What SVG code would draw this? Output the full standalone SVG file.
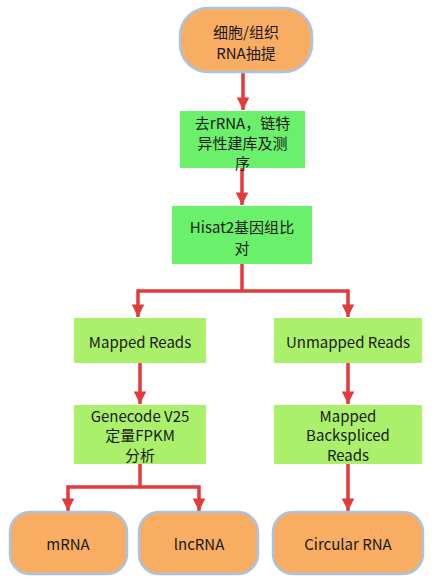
<svg xmlns="http://www.w3.org/2000/svg" width="437" height="585" viewBox="0 0 437 585">
<style>
text{font-family:"Noto Sans CJK SC","Noto Sans",sans-serif;font-size:15px;fill:#1a1a1a;text-anchor:middle;dominant-baseline:central}
.term{fill:#F8AD62;stroke:#A9C3E2;stroke-width:2.5}
.g1{fill:#6AF06A}
.g2{fill:#AAF06A}
.c{fill:none;stroke:#E23B3B;stroke-width:3.5;stroke-linejoin:miter}
</style>
<defs>
<marker id="ah" viewBox="0 0 10 10" refX="10" refY="5" markerWidth="3.6" markerHeight="3.6" orient="auto" markerUnits="strokeWidth">
<path d="M0,0 L10,5 L0,10 z" fill="#E23B3B"/>
</marker>
</defs>
<rect width="437" height="585" fill="#ffffff"/>
<g id="connectors">
<path class="c" d="M243,72 V110" marker-end="url(#ah)"/>
<path class="c" d="M242,168 V205" marker-end="url(#ah)"/>
<path class="c" d="M242,264 V291 M138,291 H348"/>
<path class="c" d="M138,289.3 V317" marker-end="url(#ah)"/>
<path class="c" d="M348,289.3 V317" marker-end="url(#ah)"/>
<path class="c" d="M140,363 V404" marker-end="url(#ah)"/>
<path class="c" d="M348,363 V404" marker-end="url(#ah)"/>
<path class="c" d="M140,464 V487 M68,487 H199"/>
<path class="c" d="M68,485.3 V511" marker-end="url(#ah)"/>
<path class="c" d="M199,485.3 V511" marker-end="url(#ah)"/>
<path class="c" d="M348,464 V511" marker-end="url(#ah)"/>
</g>
<g id="n1">
<rect class="term" x="180" y="8" width="132" height="64" rx="28" ry="28"/>
<text x="246" y="31">细胞/组织</text>
<text x="246" y="52">RNA抽提</text>
</g>
<g id="n2">
<rect class="g1" x="180" y="111" width="125" height="57"/>
<text x="242.5" y="122">去rRNA，链特</text>
<text x="242.5" y="142">异性建库及测</text>
<text x="242.5" y="162">序</text>
</g>
<g id="n3">
<rect class="g1" x="172" y="206" width="140" height="58"/>
<text x="242" y="226">Hisat2基因组比</text>
<text x="242" y="247">对</text>
</g>
<g id="n4">
<rect class="g2" x="74" y="318" width="132" height="45"/>
<text x="140" y="341">Mapped Reads</text>
</g>
<g id="n5">
<rect class="g2" x="274" y="318" width="148" height="45"/>
<text x="348" y="341">Unmapped Reads</text>
</g>
<g id="n6">
<rect class="g2" x="74" y="405" width="132" height="59"/>
<text x="140" y="415">Genecode V25</text>
<text x="140" y="434.5">定量FPKM</text>
<text x="140" y="454">分析</text>
</g>
<g id="n7">
<rect class="g2" x="274" y="405" width="148" height="59"/>
<text x="348" y="415">Mapped</text>
<text x="348" y="434.5">Backspliced</text>
<text x="348" y="454">Reads</text>
</g>
<g id="n8">
<rect class="term" x="10" y="512" width="117" height="62" rx="20" ry="20"/>
<text x="68" y="543">mRNA</text>
</g>
<g id="n9">
<rect class="term" x="139" y="512" width="119" height="62" rx="20" ry="20"/>
<text x="199" y="543">lncRNA</text>
</g>
<g id="n10">
<rect class="term" x="273" y="512" width="150" height="62" rx="20" ry="20"/>
<text x="348" y="543">Circular RNA</text>
</g>
</svg>
